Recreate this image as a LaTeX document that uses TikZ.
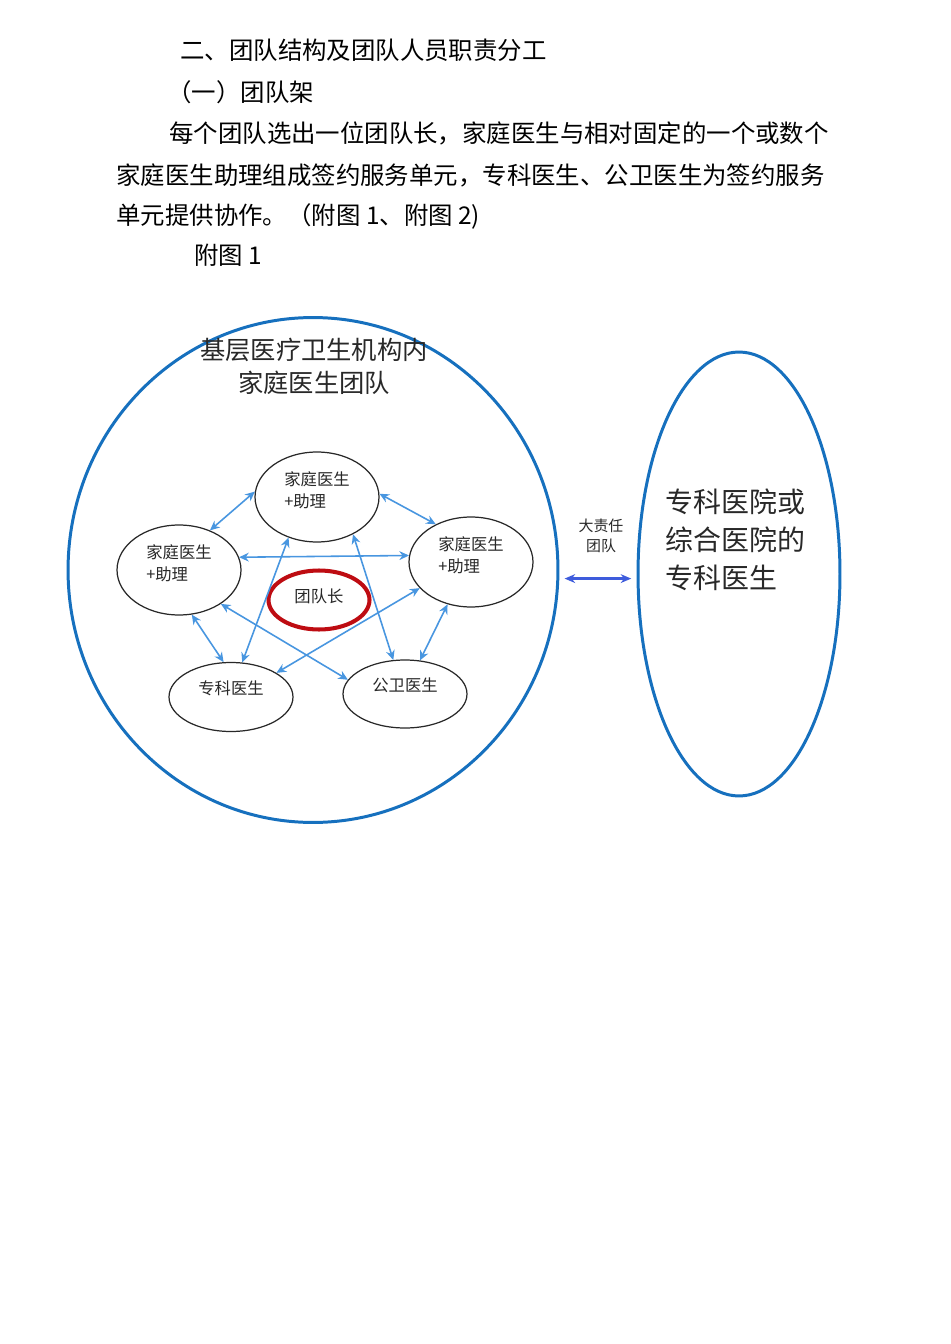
\documentclass[tikz,border=0pt]{standalone}
\usepackage{fontspec}
\setmainfont{Noto Sans CJK SC}
\usetikzlibrary{shapes.geometric, arrows.meta, positioning}
\definecolor{ringblue}{RGB}{22, 112, 190}
\definecolor{linkblue}{RGB}{72, 150, 224}
\definecolor{teamblue}{RGB}{62, 92, 220}
\definecolor{leadred}{RGB}{190, 12, 18}
\definecolor{inkgray}{RGB}{40, 40, 40}

\begin{document}
\begin{tikzpicture}[
  x=0.02cm, y=-0.02cm,
  bodytext/.style={anchor=west, inner sep=0pt, font=\fontsize{13.9pt}{16pt}\selectfont},
  member/.style={draw=inkgray, line width=0.7pt, ellipse, minimum width=2.48cm, minimum height=1.8cm, align=left, inner sep=1pt, text depth=8pt, text=inkgray, font=\fontsize{9.3pt}{12.5pt}\selectfont},
  link/.style={{Stealth[length=5.5pt, width=5pt]}-{Stealth[length=5.5pt, width=5pt]}, linkblue, line width=0.9pt}
]
  \fill[white] (0,0) rectangle (950,1344);
  \useasboundingbox (0,0) rectangle (950,1344);

  % Heading and paragraph
  \node[bodytext] (h1) at (180, 50) {二、团队结构及团队人员职责分工};
  \node[bodytext] (h2) at (167, 92) {（一）团队架};
  \node[bodytext] (p1) at (169, 133) {每个团队选出一位团队长，家庭医生与相对固定的一个或数个};
  \node[bodytext] (p2) at (116, 175) {家庭医生助理组成签约服务单元，专科医生、公卫医生为签约服务};
  \node[bodytext] (p3) at (116, 216) {单元提供协作。（附图 1、附图 2)};
  \node[bodytext] (cap) at (194, 255) {附图 1};

  % Outer team circle
  \node[draw=ringblue, line width=1.7pt, ellipse, minimum width=9.8cm, minimum height=10.1cm] (outer) at (313, 570) {};
  \node[align=center, text=inkgray, font=\fontsize{14.4pt}{18.8pt}\selectfont] (title) at (314, 366) {基层医疗卫生机构内\\家庭医生团队};

  % Team members
  \node[member] (topfd) at (317, 497) {家庭医生\\+助理};
  \node[member] (leftfd) at (179, 570) {家庭医生\\+助理};
  \node[member] (rightfd) at (471, 562) {家庭医生\\+助理};
  \node[member, minimum height=1.38cm, text depth=11pt] (spec) at (231, 697) {专科医生};
  \node[member, minimum height=1.36cm, text depth=11pt] (pub) at (405, 694) {公卫医生};
  \node[draw=leadred, line width=2.3pt, ellipse, minimum width=2.02cm, minimum height=1.18cm, text depth=4.4pt, text=inkgray, font=\fontsize{9.3pt}{12pt}\selectfont] (lead) at (319, 600) {团队长};

  \draw[link] (topfd.175) -- (leftfd.52);
  \draw[link] (topfd.3) -- (rightfd.133);
  \draw[link] (leftfd.12) -- (rightfd.174);
  \draw[link] (leftfd.286) -- (spec.102);
  \draw[link] (leftfd.321) -- (pub.166);
  \draw[link] (topfd.235) -- (spec.72);
  \draw[link] (topfd.314) -- (pub.109);
  \draw[link] (rightfd.207) -- (spec.28);
  \draw[link] (rightfd.241) -- (pub.66);

  % Hospital specialists
  \node[draw=ringblue, line width=1.7pt, ellipse, minimum width=4.04cm, minimum height=8.88cm] (hosp) at (739, 574) {};
  \node[anchor=west, align=left, inner sep=0pt, text=inkgray, font=\fontsize{15.9pt}{21.6pt}\selectfont] (hosptext) at (665, 540) {专科医院或\\综合医院的\\专科医生};

  \draw[{Stealth[length=6pt, width=5pt]}-{Stealth[length=6pt, width=5pt]}, teamblue, line width=1.3pt, shorten <=3pt, shorten >=3pt] (outer.-2) -- (outer.-2 -| hosp.west);
  \node[align=center, text=inkgray, font=\fontsize{8.5pt}{11pt}\selectfont] (bigteam) at (601, 536) {大责任\\团队};
\end{tikzpicture}
\end{document}
